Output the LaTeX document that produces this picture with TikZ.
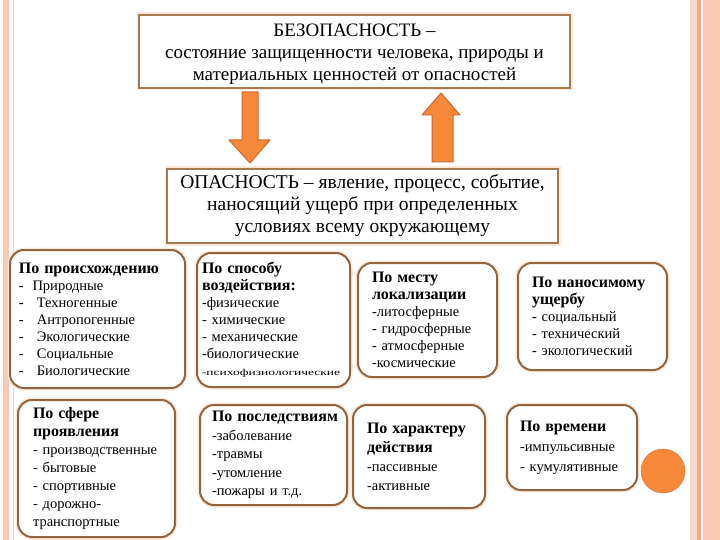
\documentclass[tikz,border=0pt]{standalone}
\usepackage{graphicx}
\usepackage{fontspec}
\setmainfont{Liberation Serif}
\definecolor{brownb}{HTML}{94643E}
\definecolor{boxb}{HTML}{A57A52}
\definecolor{orng}{HTML}{F7883A}
\definecolor{orngd}{HTML}{C8692E}
\definecolor{pinkband}{HTML}{F9C9B4}
\definecolor{pinkline}{HTML}{F3A98C}
\definecolor{glow}{HTML}{FCE9DC}
\newcommand{\ttl}[1]{\mbox{\fontsize{16}{17}\selectfont\bfseries #1}}
\begin{document}
\begin{tikzpicture}[x=1pt,y=-1pt,
  defbox/.style={draw=boxb, line width=1.8pt, fill=white, inner sep=0pt, align=center,
     preaction={draw=glow, line width=5pt}},
  catbox/.style={draw=brownb, line width=2pt, rounded corners=14pt, fill=white, inner ysep=0pt,
     align=left, preaction={draw=glow, line width=5pt},
     font=\fontsize{14.5}{17}\selectfont},
  blockarrow/.style={fill=orng, draw=orngd, line width=1pt, line join=round}]
\useasboundingbox (0,0) rectangle (720,540);
\fill[white] (0,0) rectangle (720,540);
% side bands
\fill[pinkband] (3,0) rectangle (9,540);
\draw[pinkline!60, line width=0.8pt] (13,0) -- (13,540);
\fill[pinkband!70] (690,0) rectangle (697,540);
\fill[pinkline] (697,0) rectangle (701,540);
\fill[pinkband] (703,0) rectangle (720,540);

% top definition
\node[defbox, minimum width=431pt, minimum height=73pt] (safety) at (354.5,51.5) {};
\node[align=center, inner sep=0pt, font=\fontsize{19}{22}\selectfont] (safetytext) at (354.5,54.5)
  {БЕЗОПАСНОСТЬ –\\состояние защищенности человека, природы и\\материальных ценностей от опасностей};

% middle definition
\node[defbox, minimum width=391pt, minimum height=74pt,
  font=\fontsize{19.5}{22}\selectfont] (danger) at (362.5,206)
  {ОПАСНОСТЬ – явление, процесс, событие,\\наносящий ущерб при определенных\\условиях всему окружающему};

% block arrows
\draw[blockarrow] (242,92) -- (258,92) -- (258,140) -- (270,140) -- (250,163) -- (229,140) -- (242,140) -- cycle;
\draw[blockarrow] (432,162) -- (453,162) -- (453,115) -- (460,115) -- (441,93) -- (422,115) -- (432,115) -- cycle;

% row 1
\node[catbox, text width=157pt, inner xsep=9pt, minimum height=138pt] (origin) at (97.5,319)
  {\ttl{По происхождению}\\-\hspace{0.6em}Природные\\-\hspace{0.9em}Техногенные\\-\hspace{0.9em}Антропогенные\\-\hspace{0.9em}Экологические\\-\hspace{0.9em}Социальные\\-\hspace{0.9em}Биологические};
\node[catbox, text width=143pt, inner xsep=5pt, minimum height=134pt] (method) at (273.5,320)
  {\ttl{По способу}\\\ttl{воздействия:}\\-физические\\- химические\\- механические\\-биологические\\\scalebox{1.5}[1]{\fontsize{9}{17}\selectfont -психофизиологические}};
\node[catbox, text width=111pt, inner xsep=14pt, minimum height=114pt] (place) at (427.5,320)
  {\ttl{По месту}\\\ttl{локализации}\\-литосферные\\- гидросферные\\- атмосферные\\-космические};
\node[catbox, text width=121pt, inner xsep=14pt, minimum height=107pt] (damage) at (592.5,316.5)
  {\ttl{По наносимому}\\\ttl{ущербу}\\- социальный\\- технический\\- экологический};

% row 2
\node[catbox, text width=127pt, inner xsep=15pt, minimum height=137pt,
  font=\fontsize{14.5}{18}\selectfont] (sphere) at (96.5,468.5)
  {\ttl{По сфере}\\\ttl{проявления}\\- производственные\\- бытовые\\- спортивные\\- дорожно-\\транспортные};
\node[catbox, text width=123pt, inner xsep=12pt, minimum height=100pt,
  font=\fontsize{14.5}{18.5}\selectfont] (conseq) at (273.5,455)
  {\ttl{По последствиям}\\-заболевание\\-травмы\\-утомление\\-пожары и т.д.};
\node[catbox, text width=104pt, inner xsep=14pt, minimum height=103pt,
  font=\fontsize{14.5}{19}\selectfont] (action) at (419,456.5)
  {\ttl{По характеру}\\\ttl{действия}\\-пассивные\\-активные};
\node[catbox, text width=104pt, inner xsep=13pt, minimum height=85pt,
  font=\fontsize{14.5}{20}\selectfont] (time) at (572,447.5)
  {\ttl{По времени}\\-импульсивные\\- кумулятивные};

% orange dot
\node[circle, fill=orng, draw=orng!90!black, line width=0.5pt, minimum size=44pt, inner sep=0pt] (dot) at (663,471) {};
\end{tikzpicture}
\end{document}
